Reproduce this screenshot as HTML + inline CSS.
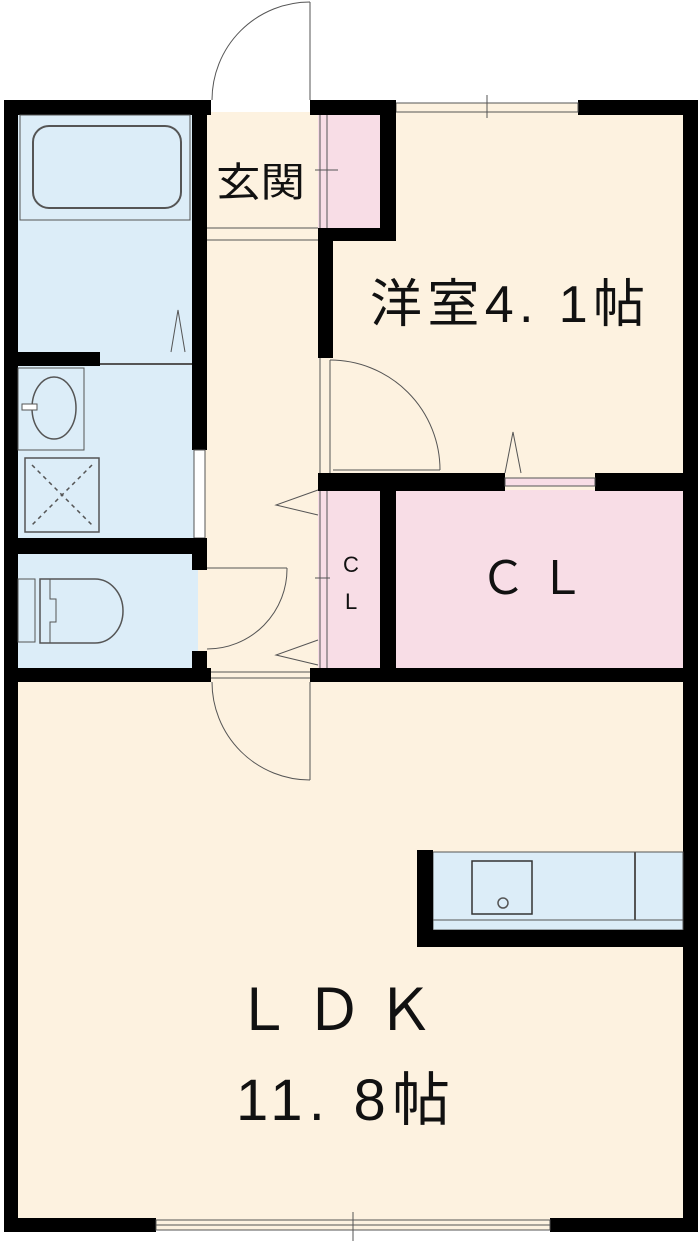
<!DOCTYPE html>
<html><head><meta charset="utf-8"><style>
html,body{margin:0;padding:0;background:#fff;}
svg{display:block;}
text{font-family:"Liberation Sans","Noto Sans CJK JP",sans-serif;fill:#111;}
</style></head><body>
<svg width="700" height="1241" viewBox="0 0 700 1241" xmlns="http://www.w3.org/2000/svg">
<rect width="700" height="1241" fill="#fff"/>
<rect x="18" y="112" width="670" height="1110" fill="#fdf2e0"/>
<rect x="18" y="112" width="180" height="560" fill="#dcedf8"/>
<rect x="318" y="115" width="65" height="115" fill="#f8dde6"/>
<rect x="318" y="490" width="65" height="180" fill="#f8dde6"/>
<rect x="395" y="490" width="290" height="180" fill="#f8dde6"/>
<rect x="4" y="100" width="14" height="1132" fill="#000"/>
<rect x="4" y="100" width="207" height="15" fill="#000"/>
<rect x="310" y="100" width="86" height="15" fill="#000"/>
<rect x="578" y="100" width="120" height="15" fill="#000"/>
<rect x="683" y="100" width="15" height="1132" fill="#000"/>
<rect x="4" y="1218" width="152" height="14" fill="#000"/>
<rect x="550" y="1218" width="148" height="14" fill="#000"/>
<g stroke="#555" stroke-width="1" fill="#fdf2e0">
<rect x="396" y="103" width="182" height="9"/>
<line x1="487" y1="95" x2="487" y2="118"/>
<rect x="156" y="1220" width="394" height="10"/>
<line x1="353" y1="1212" x2="353" y2="1241"/>
<line x1="156" y1="1225" x2="353" y2="1225"/>
<line x1="353" y1="1225" x2="550" y2="1225"/>
</g>
<rect x="192" y="100" width="15" height="350" fill="#000"/>
<rect x="192" y="538" width="15" height="32" fill="#000"/>
<rect x="192" y="651" width="15" height="31" fill="#000"/>
<rect x="194" y="450" width="11" height="88" fill="#fff" stroke="#555"/>
<rect x="18" y="352" width="82" height="14" fill="#000"/>
<line x1="100" y1="364" x2="192" y2="364" stroke="#555" stroke-width="2"/>
<polyline points="171,352 178,310 185,352" fill="none" stroke="#555"/>
<rect x="18" y="538" width="189" height="16" fill="#000"/>
<rect x="4" y="668" width="207" height="14" fill="#000"/>
<rect x="310" y="668" width="388" height="14" fill="#000"/>
<line x1="211" y1="672" x2="310" y2="672" stroke="#555"/>
<line x1="211" y1="678" x2="310" y2="678" stroke="#555"/>
<rect x="20" y="115" width="170" height="105" fill="#dcedf8" stroke="#555"/>
<rect x="33" y="126" width="148" height="82" rx="16" fill="none" stroke="#555" stroke-width="2"/>
<rect x="18" y="368" width="66" height="82" fill="none" stroke="#555"/>
<ellipse cx="54" cy="408" rx="22" ry="31" fill="none" stroke="#555" stroke-width="1.5"/>
<rect x="22" y="404" width="15" height="6" fill="#fff" stroke="#555"/>
<rect x="25" y="458" width="74" height="74" fill="none" stroke="#555" stroke-width="1.5"/>
<path d="M32 465 L92 525 M92 465 L32 525" stroke="#555" stroke-width="1.5" stroke-dasharray="4,4"/>
<rect x="18" y="579" width="17" height="63" fill="none" stroke="#555"/>
<path d="M40 579 H95 A28 32 0 0 1 95 643 H40 Z" fill="none" stroke="#555" stroke-width="1.5"/>
<path d="M50 579 V599 H56 V622 H50 V643" fill="none" stroke="#555"/>
<line x1="207" y1="228" x2="318" y2="228" stroke="#555"/>
<line x1="207" y1="240" x2="318" y2="240" stroke="#555"/>
<rect x="380" y="100" width="16" height="140" fill="#000"/>
<rect x="318" y="228" width="78" height="13" fill="#000"/>
<line x1="320" y1="115" x2="320" y2="228" stroke="#555"/>
<line x1="327" y1="115" x2="327" y2="228" stroke="#555"/>
<line x1="315" y1="170" x2="338" y2="170" stroke="#555"/>
<path d="M212 100 A98 98 0 0 1 310 2" fill="none" stroke="#555"/>
<line x1="310" y1="2" x2="310" y2="100" stroke="#555"/>
<rect x="318" y="228" width="15" height="130" fill="#000"/>
<line x1="320" y1="358" x2="320" y2="473" stroke="#555"/>
<path d="M330 360 A110 110 0 0 1 440 470" fill="none" stroke="#555"/>
<line x1="330" y1="360" x2="330" y2="473" stroke="#555"/>
<line x1="333" y1="470" x2="440" y2="470" stroke="#555"/>
<rect x="318" y="473" width="187" height="18" fill="#000"/>
<rect x="595" y="473" width="103" height="18" fill="#000"/>
<rect x="505" y="478" width="90" height="8" fill="#f8dde6" stroke="#555"/>
<polyline points="505,473 513,432 521,473" fill="none" stroke="#555"/>
<rect x="380" y="473" width="16" height="209" fill="#000"/>
<line x1="320" y1="491" x2="320" y2="668" stroke="#555"/>
<line x1="327" y1="491" x2="327" y2="668" stroke="#555"/>
<line x1="315" y1="578" x2="330" y2="578" stroke="#555"/>
<polyline points="318,490 276,505 318,515" fill="none" stroke="#555"/>
<polyline points="318,640 276,655 318,665" fill="none" stroke="#555"/>
<line x1="207" y1="568" x2="287" y2="568" stroke="#555"/>
<path d="M287 568 A80 80 0 0 1 207 649" fill="none" stroke="#555"/>
<path d="M212 682 A98 98 0 0 0 310 780" fill="none" stroke="#555"/>
<line x1="310" y1="682" x2="310" y2="780" stroke="#555"/>
<rect x="433" y="852" width="250" height="78" fill="#dcedf8" stroke="#555"/>
<line x1="433" y1="920" x2="683" y2="920" stroke="#555"/>
<line x1="635" y1="852" x2="635" y2="920" stroke="#555" stroke-width="2"/>
<rect x="472" y="861" width="60" height="53" fill="none" stroke="#333" stroke-width="1.5"/>
<circle cx="503" cy="903" r="5" fill="none" stroke="#555" stroke-width="1.5"/>
<rect x="417" y="850" width="16" height="97" fill="#000"/>
<rect x="417" y="930" width="281" height="17" fill="#000"/>
<text x="216" y="196" font-size="40" textLength="89" lengthAdjust="spacingAndGlyphs">玄関</text>
<text x="370" y="322" font-size="52" textLength="275" lengthAdjust="spacing">洋室4. 1帖</text>
<text x="480" y="594" font-size="46" textLength="105" lengthAdjust="spacing">Ｃ Ｌ</text>
<text x="343" y="572" font-size="22">C</text>
<text x="345" y="609" font-size="22">L</text>
<text x="234" y="1030" font-size="58" textLength="200" lengthAdjust="spacing">Ｌ Ｄ Ｋ</text>
<text x="236" y="1120" font-size="58" textLength="214" lengthAdjust="spacing">11. 8帖</text>
</svg>
</body></html>
